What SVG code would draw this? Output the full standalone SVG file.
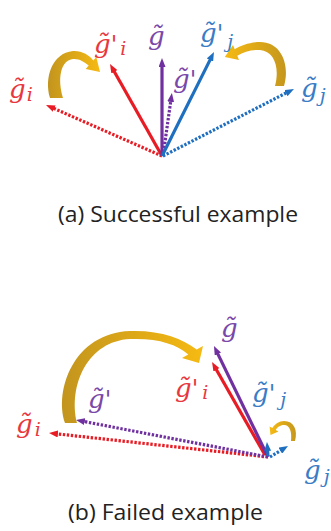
<svg xmlns="http://www.w3.org/2000/svg" width="331" height="531" viewBox="0 0 331 531">
<defs>
<style>
.lbl{font-family:"DejaVu Serif","Liberation Serif",serif;font-style:italic;font-size:26px}
.sub{font-size:19px}
.pr{font-size:24px}
.r{fill:#e8383d}.p{fill:#7a48a8}.b{fill:#3a7cc6}
.cap{font-family:"Open Sans","Noto Sans",sans-serif;font-size:22px;fill:#222}
.ln{fill:none;stroke-width:3.2}
.dot{stroke-dasharray:2.4 1.6}
.sr{stroke:#e81c24}.sp{stroke:#7030a0}.sb{stroke:#1f6fc0}
</style>
<marker id="ar" viewBox="0 0 9 7" refX="3" refY="3.5" markerWidth="9" markerHeight="7" markerUnits="userSpaceOnUse" orient="auto"><path d="M0,0 L9,3.5 L0,7 z" fill="#e81c24"/></marker>
<marker id="ap" viewBox="0 0 9 7" refX="3" refY="3.5" markerWidth="9" markerHeight="7" markerUnits="userSpaceOnUse" orient="auto"><path d="M0,0 L9,3.5 L0,7 z" fill="#7030a0"/></marker>
<marker id="ab" viewBox="0 0 9 7" refX="3" refY="3.5" markerWidth="9" markerHeight="7" markerUnits="userSpaceOnUse" orient="auto"><path d="M0,0 L9,3.5 L0,7 z" fill="#1f6fc0"/></marker>
<linearGradient id="gL" x1="0" y1="0" x2="1" y2="0"><stop offset="0" stop-color="#c3951e"/><stop offset="1" stop-color="#f6ba12"/></linearGradient>
<linearGradient id="gR" x1="0" y1="0" x2="1" y2="0"><stop offset="0" stop-color="#f6ba12"/><stop offset="1" stop-color="#c5971e"/></linearGradient>
</defs>
<rect width="331" height="531" fill="#fff"/>

<g id="connectors">
<line class="ln dot sr" x1="162" y1="156" x2="51.5" y2="107.4" marker-end="url(#ar)"/>
<line class="ln sr" x1="162" y1="156" x2="112.95" y2="69.2" marker-end="url(#ar)"/>
<line class="ln sp" x1="162" y1="156" x2="162" y2="64" marker-end="url(#ap)"/>
<line class="ln dot sp" x1="163" y1="156" x2="171.06" y2="98.9" marker-end="url(#ap)"/>
<line class="ln sb" x1="162" y1="156" x2="211.3" y2="57.4" marker-end="url(#ab)"/>
<line class="ln dot sb" x1="163" y1="156" x2="288.65" y2="91.7" marker-end="url(#ab)"/>
<line class="ln dot sr" x1="268" y1="457" x2="54.96" y2="433.65" marker-end="url(#ar)"/>
<line class="ln dot sp" x1="268" y1="457" x2="81.9" y2="421.1" marker-end="url(#ap)"/>
<line class="ln sr" x1="265" y1="455" x2="215" y2="367.2" marker-end="url(#ar)"/>
<line class="ln sp" x1="268" y1="457" x2="216.6" y2="351.4" marker-end="url(#ap)"/>
<line class="ln sb" x1="268" y1="456" x2="267.4" y2="448" marker-end="url(#ab)"/>
<line class="ln dot sb" x1="270" y1="457" x2="282.9" y2="449.1" marker-end="url(#ab)"/>
</g>

<g id="curved-arrows">
<path d="M 50 98 C 44 78, 52 53, 73 51 C 82 50.5, 89 55, 93.3 60.4 L 96.3 57 L 100 72 L 85.7 69 L 88.7 65.6 C 84 61.5, 79 58.5, 73 59 C 61 60, 57 78, 63 98 Z" fill="url(#gL)"/>
<path d="M 284 86 C 290 66, 282 42, 260 42 C 251 42, 241 45, 234.7 49.3 L 233 45 L 224.8 57 L 239 60 L 237.3 55.7 C 244 51.5, 251 49.5, 260 50 C 274 51, 280 67, 275 86 Z" fill="url(#gR)"/>
<path d="M 65 423 C 54 390, 74 333, 130 331 C 160 330, 182 338, 196.7 349.6 L 203 346 L 199 363 L 182 358 L 188.3 354.4 C 176 344, 158 338, 130 339 C 88 341, 68 385, 77 423 Z" fill="url(#gL)"/>
<path d="M 295 441 C 298 430, 294 421, 284 421 C 279 421, 275 424, 272.3 428 L 269.6 426.5 L 270.5 435 L 278.4 431.5 L 275.7 430 C 277 427.5, 280 425, 284 425 C 290 425, 292 432, 291 441 Z" fill="url(#gR)"/>
</g>

<g id="a-gi"><text class="lbl r" x="9" y="98">g&#x303;<tspan class="sub" dx="1" dy="3">i</tspan></text></g>
<g id="a-gpi"><text class="lbl r" x="94" y="53">g&#x303;<tspan class="pr">'</tspan><tspan class="sub" dx="3" dy="2">i</tspan></text></g>
<g id="a-g"><text class="lbl p" x="148" y="45">g&#x303;</text></g>
<g id="a-gp"><text class="lbl p" x="173" y="88">g&#x303;<tspan class="pr">'</tspan></text></g>
<g id="a-gpj"><text class="lbl b" x="200" y="42">g&#x303;<tspan class="pr">'</tspan><tspan class="sub" dx="4" dy="6">j</tspan></text></g>
<g id="a-gj"><text class="lbl b" x="301" y="97">g&#x303;<tspan class="sub" dx="2" dy="5">j</tspan></text></g>
<g id="cap-a"><text class="cap" x="58" y="222" textLength="240" lengthAdjust="spacingAndGlyphs">(a) Successful example</text></g>

<g id="b-g"><text class="lbl p" x="221" y="337">g&#x303;</text></g>
<g id="b-gpi"><text class="lbl r" x="175" y="397">g&#x303;<tspan class="pr">'</tspan><tspan class="sub" dx="4" dy="2">i</tspan></text></g>
<g id="b-gp"><text class="lbl p" x="88" y="408">g&#x303;<tspan class="pr">'</tspan></text></g>
<g id="b-gi"><text class="lbl r" x="16" y="433">g&#x303;<tspan class="sub" dx="2" dy="3">i</tspan></text></g>
<g id="b-gpj"><text class="lbl b" x="252" y="402">g&#x303;<tspan class="pr">'</tspan><tspan class="sub" dx="5" dy="4">j</tspan></text></g>
<g id="b-gj"><text class="lbl b" x="304" y="479">g&#x303;<tspan class="sub" dx="3" dy="4">j</tspan></text></g>
<g id="cap-b"><text class="cap" x="68" y="520" textLength="195" lengthAdjust="spacingAndGlyphs">(b) Failed example</text></g>
</svg>
